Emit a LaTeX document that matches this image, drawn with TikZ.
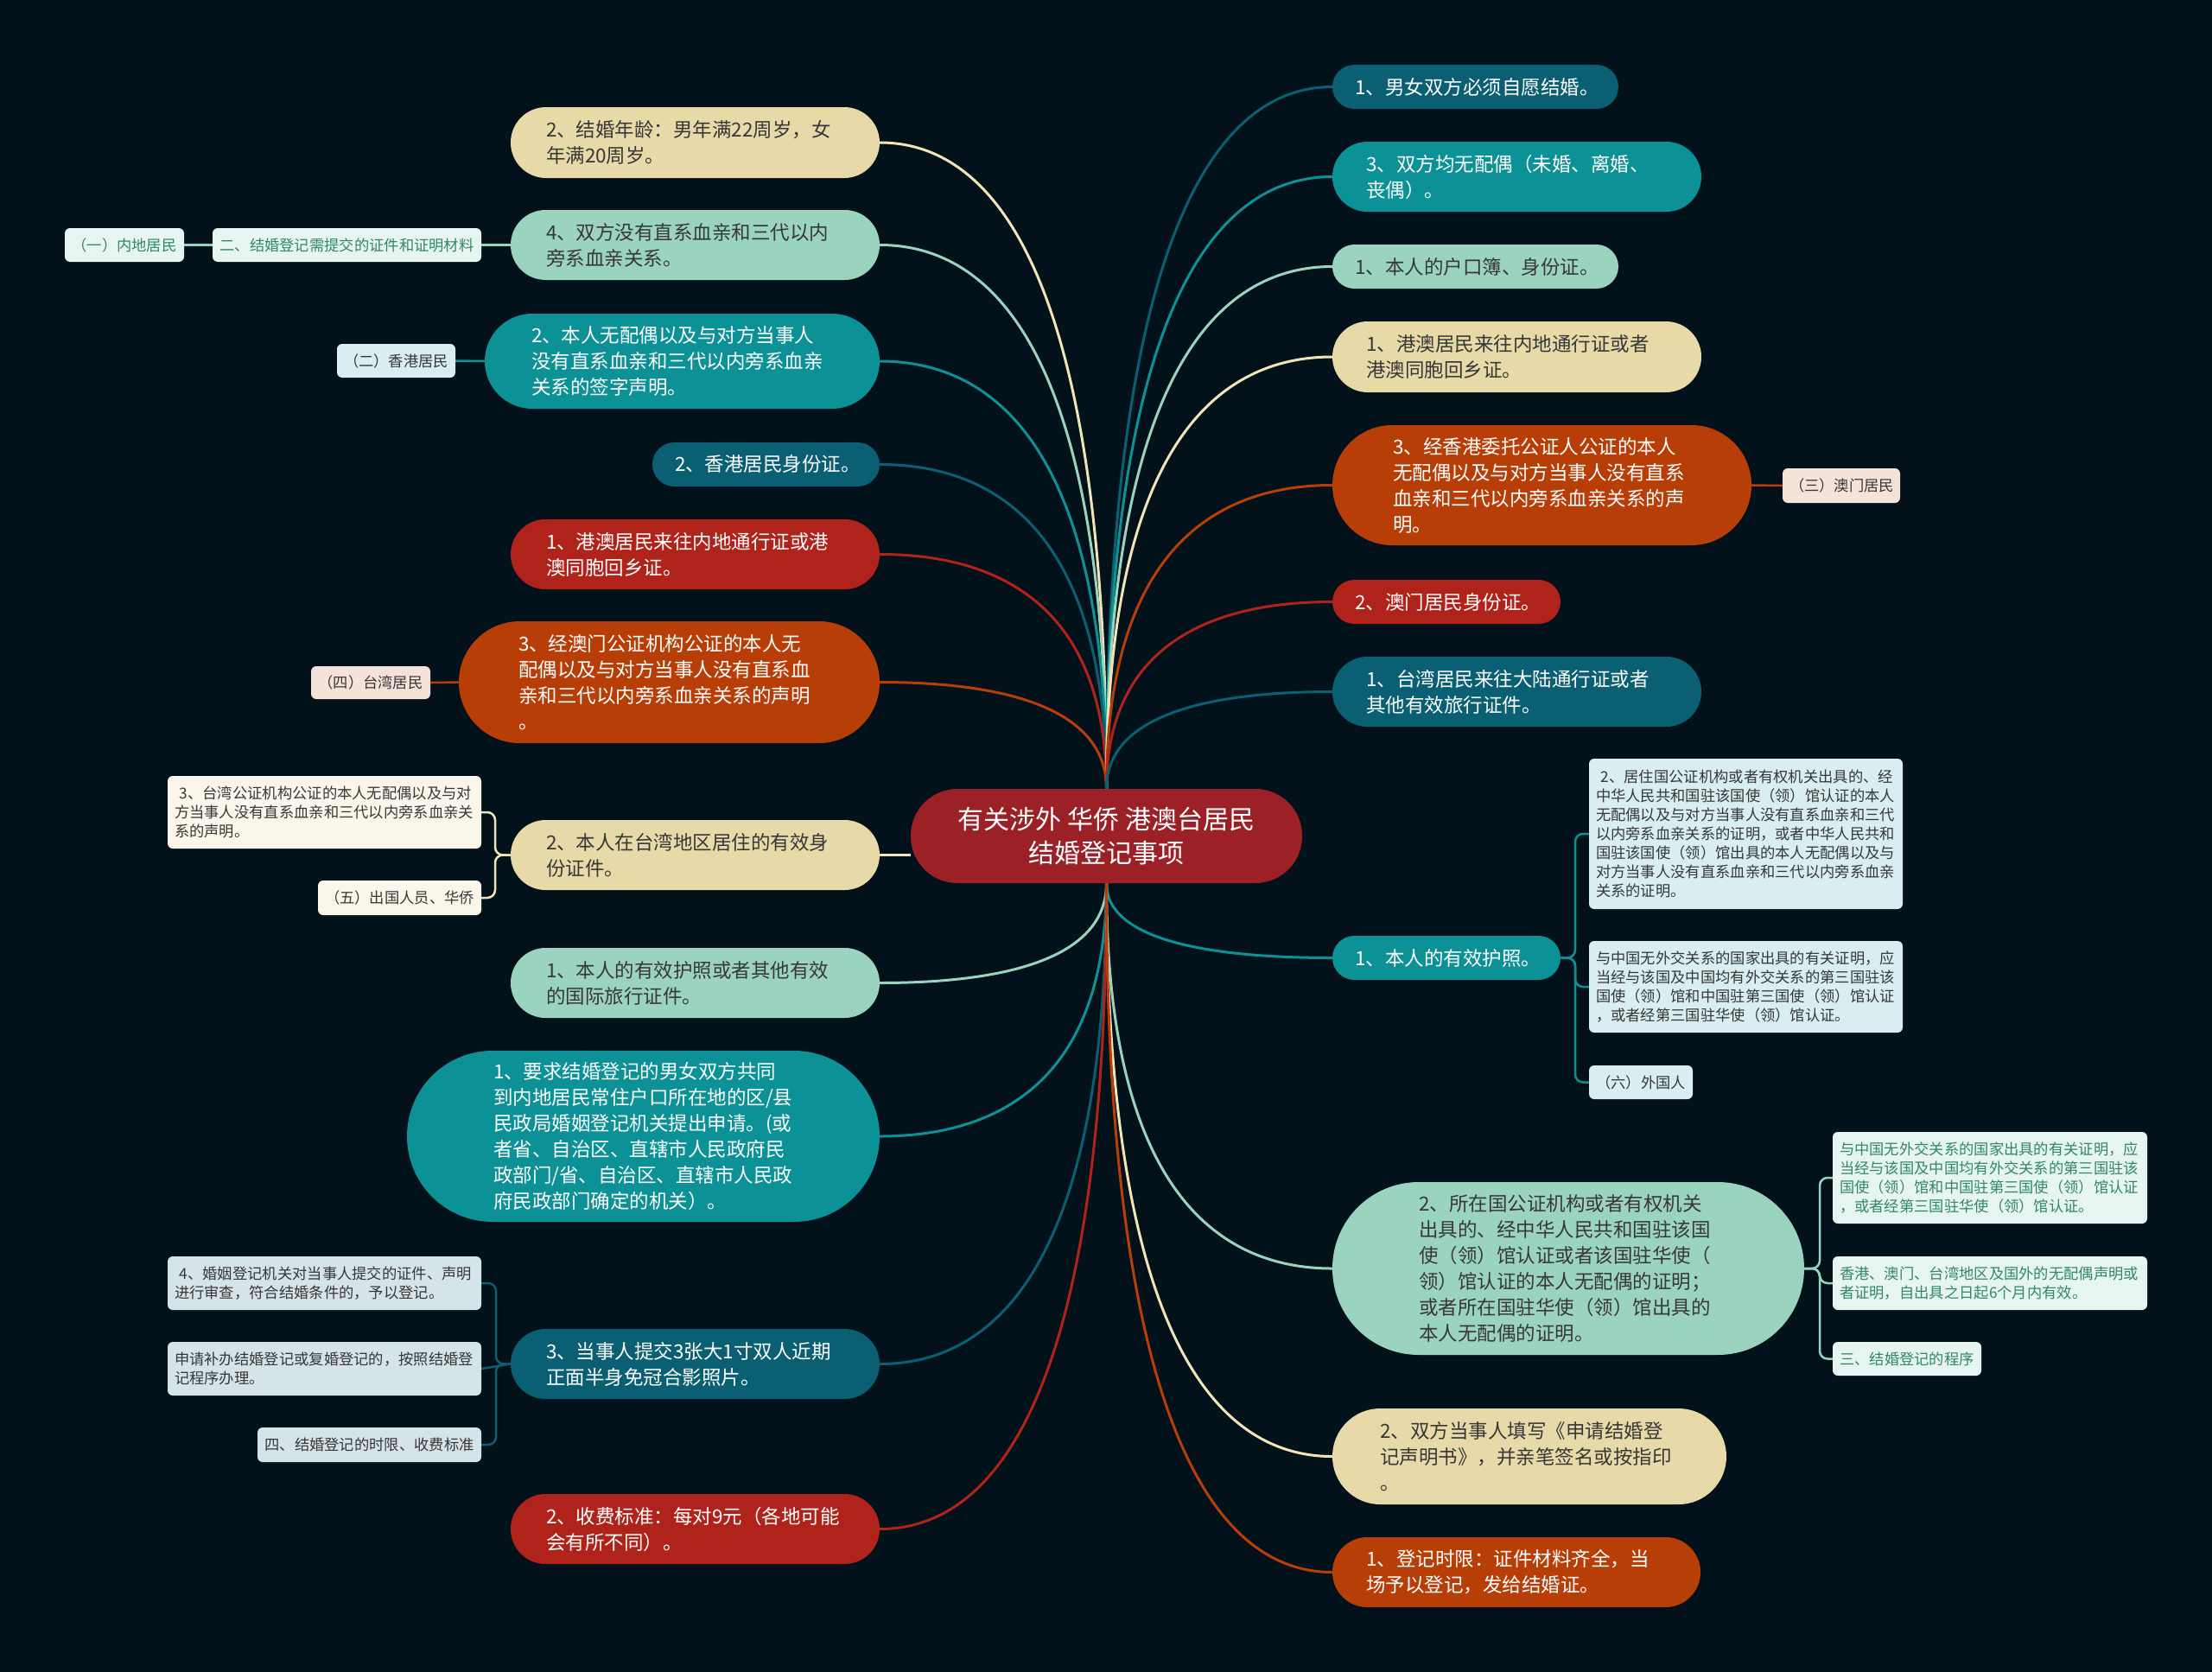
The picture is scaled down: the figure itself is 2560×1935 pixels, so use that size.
\documentclass[tikz,border=0pt]{standalone}
\usepackage{fontspec}
\setmainfont{Noto Sans CJK SC}
\usetikzlibrary{calc}
\definecolor{bgc}{RGB}{3,17,26}
\definecolor{cbeige}{RGB}{232,217,168}
\definecolor{lbeige}{RGB}{240,228,185}
\definecolor{cmint}{RGB}{155,212,190}
\definecolor{cteal}{RGB}{12,145,150}
\definecolor{cdteal}{RGB}{10,96,114}
\definecolor{cred}{RGB}{176,35,26}
\definecolor{corange}{RGB}{184,62,8}
\definecolor{ccenter}{RGB}{155,33,39}
\definecolor{tdark}{RGB}{55,55,55}
\definecolor{tgreen}{RGB}{50,135,105}
\definecolor{smint}{RGB}{230,245,239}
\definecolor{scyan}{RGB}{216,238,240}
\definecolor{speach}{RGB}{245,227,218}
\definecolor{scream}{RGB}{251,246,234}
\definecolor{sgray}{RGB}{213,228,233}
\pgfdeclarelayer{bglayer}
\pgfdeclarelayer{edgelayer}
\pgfsetlayers{bglayer,edgelayer,main}
\tikzset{
  conn/.style={draw=#1, line width=3pt},
  subconn/.style={draw=#1, line width=2.5pt, rounded corners=9pt},
}
\newcommand\mainnode[9]{%
  \pgfmathsetmacro\mnW{#4-#2}%
  \pgfmathsetmacro\mnH{#5-#3}%
  \pgfmathsetmacro\mnT{#4-#2-2*#6}%
  \pgfmathsetmacro\mnR{(#5-#3)/2-0.05}%
  \pgfmathsetmacro\mnX{(#2+#4)/2}%
  \pgfmathsetmacro\mnY{(#3+#5)/2}%
  \node[fill=#7, text=#8, rounded corners=\mnR pt, minimum width=\mnW pt,
        minimum height=\mnH pt, text width=\mnT pt, inner xsep=#6pt, inner ysep=0pt,
        align=left, font=\fontsize{22.5}{30}\selectfont] (#1) at (\mnX,\mnY) {#9};}
\newcommand\subnode[9]{%
  \pgfmathsetmacro\mnW{#4-#2}%
  \pgfmathsetmacro\mnH{#5-#3}%
  \pgfmathsetmacro\mnT{#4-#2-16}%
  \pgfmathsetmacro\mnX{(#2+#4)/2}%
  \pgfmathsetmacro\mnY{(#3+#5)/2}%
  \node[fill=#7, text=#8, rounded corners=6pt, minimum width=\mnW pt,
        minimum height=\mnH pt, text width=\mnT pt, inner xsep=8pt, inner ysep=0pt,
        align=#6, font=\fontsize{17.3}{22}\selectfont] (#1) at (\mnX,\mnY) {#9};}
\newcommand\curveto[3]{%
  \draw[conn=#3] let \p1=(#1), \p2=(#2) in
    (\p1) .. controls (\x1,{\y2+0.2*(\y1-(\y2))}) and ({\x2+0.5*(\x1-(\x2))},\y2) .. (\p2);}
\begin{document}
\begin{tikzpicture}[x=1pt,y=-1pt]
\begin{pgfonlayer}{bglayer}
\fill[bgc] (0,0) rectangle (2560,1935);
\end{pgfonlayer}
\useasboundingbox (0,0) rectangle (2560,1935);

% center
\node[fill=ccenter, text=white, rounded corners=54pt, minimum width=453pt, minimum height=109pt,
      inner sep=0pt, align=center, font=\fontsize{30}{39}\selectfont] (c) at (1280.5,967.5)
      {有关涉外 华侨 港澳台居民\\结婚登记事项};

% left main nodes
\mainnode{L1}{591}{124}{1018}{206}{41}{cbeige}{tdark}{2、结婚年龄：男年满22周岁，女\\年满20周岁。}
\mainnode{L2}{591}{243}{1018}{324}{41}{cmint}{tdark}{4、双方没有直系血亲和三代以内\\旁系血亲关系。}
\mainnode{L3}{561}{363}{1018}{473}{54}{cteal}{white}{2、本人无配偶以及与对方当事人\\没有直系血亲和三代以内旁系血亲\\关系的签字声明。}
\mainnode{L4}{755}{512}{1018}{563}{26}{cdteal}{white}{2、香港居民身份证。}
\mainnode{L5}{591}{601}{1018}{682}{41}{cred}{white}{1、港澳居民来往内地通行证或港\\澳同胞回乡证。}
\mainnode{L6}{531}{719}{1018}{860}{69}{corange}{white}{3、经澳门公证机构公证的本人无\\配偶以及与对方当事人没有直系血\\亲和三代以内旁系血亲关系的声明\\。}
\mainnode{L7}{591}{949}{1018}{1030}{41}{cbeige}{tdark}{2、本人在台湾地区居住的有效身\\份证件。}
\mainnode{L8}{591}{1097}{1018}{1178}{41}{cmint}{tdark}{1、本人的有效护照或者其他有效\\的国际旅行证件。}
\mainnode{L9}{471}{1216}{1018}{1414}{100}{cteal}{white}{1、要求结婚登记的男女双方共同\\到内地居民常住户口所在地的区/县\\民政局婚姻登记机关提出申请。(或\\者省、自治区、直辖市人民政府民\\政部门/省、自治区、直辖市人民政\\府民政部门确定的机关）。}
\mainnode{L10}{591}{1538}{1018}{1619}{41}{cdteal}{white}{3、当事人提交3张大1寸双人近期\\正面半身免冠合影照片。}
\mainnode{L11}{591}{1729}{1018}{1810}{41}{cred}{white}{2、收费标准：每对9元（各地可能\\会有所不同）。}

% right main nodes
\mainnode{R1}{1542}{75}{1873}{126}{26}{cdteal}{white}{1、男女双方必须自愿结婚。}
\mainnode{R2}{1542}{164}{1969}{245}{39}{cteal}{white}{3、双方均无配偶（未婚、离婚、\\丧偶）。}
\mainnode{R3}{1542}{283}{1873}{334}{26}{cmint}{tdark}{1、本人的户口簿、身份证。}
\mainnode{R4}{1542}{372}{1969}{454}{39}{cbeige}{tdark}{1、港澳居民来往内地通行证或者\\港澳同胞回乡证。}
\mainnode{R5}{1542}{492}{2027}{631}{70}{corange}{white}{3、经香港委托公证人公证的本人\\无配偶以及与对方当事人没有直系\\血亲和三代以内旁系血亲关系的声\\明。}
\mainnode{R6}{1542}{671}{1806}{722}{26}{cred}{white}{2、澳门居民身份证。}
\mainnode{R7}{1542}{760}{1969}{841}{39}{cdteal}{white}{1、台湾居民来往大陆通行证或者\\其他有效旅行证件。}
\mainnode{R8}{1542}{1083}{1806}{1134}{26}{cteal}{white}{1、本人的有效护照。}
\mainnode{R9}{1542}{1368}{2088}{1568}{100}{cmint}{tdark}{2、所在国公证机构或者有权机关\\出具的、经中华人民共和国驻该国\\使（领）馆认证或者该国驻华使（\\领）馆认证的本人无配偶的证明；\\或者所在国驻华使（领）馆出具的\\本人无配偶的证明。}
\mainnode{R10}{1542}{1630}{1998}{1741}{55}{cbeige}{tdark}{2、双方当事人填写《申请结婚登\\记声明书》，并亲笔签名或按指印\\。}
\mainnode{R11}{1542}{1779}{1968}{1860}{39}{corange}{white}{1、登记时限：证件材料齐全，当\\场予以登记，发给结婚证。}

% small nodes left
\subnode{S1}{75}{264}{213}{303}{center}{smint}{tgreen}{（一）内地居民}
\subnode{S2}{246}{264}{557}{303}{center}{smint}{tgreen}{二、结婚登记需提交的证件和证明材料}
\subnode{S3}{390}{398}{527}{437}{center}{scyan}{tdark}{（二）香港居民}
\subnode{S4}{360}{771}{498}{809}{center}{speach}{tdark}{（四）台湾居民}
\subnode{S5}{194}{898}{557}{982}{left}{scream}{tdark}{~3、台湾公证机构公证的本人无配偶以及与对\\方当事人没有直系血亲和三代以内旁系血亲关\\系的声明。}
\subnode{S6}{368}{1019}{557}{1059}{center}{scream}{tdark}{（五）出国人员、华侨}
\subnode{S7}{194}{1454}{557}{1516}{left}{sgray}{tdark}{~4、婚姻登记机关对当事人提交的证件、声明\\进行审查，符合结婚条件的，予以登记。}
\subnode{S8}{194}{1553}{557}{1615}{left}{sgray}{tdark}{申请补办结婚登记或复婚登记的，按照结婚登\\记程序办理。}
\subnode{S9}{298}{1652}{557}{1692}{center}{sgray}{tdark}{四、结婚登记的时限、收费标准}

% small nodes right
\subnode{S10}{2063}{542}{2199}{582}{center}{speach}{tdark}{（三）澳门居民}
\subnode{P1}{1839}{878}{2202}{1052}{left}{scyan}{tdark}{~2、居住国公证机构或者有权机关出具的、经\\中华人民共和国驻该国使（领）馆认证的本人\\无配偶以及与对方当事人没有直系血亲和三代\\以内旁系血亲关系的证明，或者中华人民共和\\国驻该国使（领）馆出具的本人无配偶以及与\\对方当事人没有直系血亲和三代以内旁系血亲\\关系的证明。}
\subnode{P2}{1839}{1089}{2202}{1195}{left}{scyan}{tdark}{与中国无外交关系的国家出具的有关证明，应\\当经与该国及中国均有外交关系的第三国驻该\\国使（领）馆和中国驻第三国使（领）馆认证\\，或者经第三国驻华使（领）馆认证。}
\subnode{P3}{1839}{1233}{1959}{1272}{center}{scyan}{tdark}{（六）外国人}
\subnode{Q1}{2121}{1310}{2485}{1416}{left}{smint}{tgreen}{与中国无外交关系的国家出具的有关证明，应\\当经与该国及中国均有外交关系的第三国驻该\\国使（领）馆和中国驻第三国使（领）馆认证\\，或者经第三国驻华使（领）馆认证。}
\subnode{Q2}{2121}{1454}{2485}{1516}{left}{smint}{tgreen}{香港、澳门、台湾地区及国外的无配偶声明或\\者证明，自出具之日起6个月内有效。}
\subnode{Q3}{2121}{1553}{2293}{1592}{center}{smint}{tgreen}{三、结婚登记的程序}

% bracket x positions
\coordinate (kL7) at (573,990);
\coordinate (kL10) at (574,1578);
\coordinate (kR8) at (1823,1108);
\coordinate (kR9) at (2106,1468);

\begin{pgfonlayer}{edgelayer}
% center to main nodes (upper)
\curveto{c.north}{L1.east}{lbeige}
\curveto{c.north}{L2.east}{cmint}
\curveto{c.north}{L3.east}{cteal}
\curveto{c.north}{L4.east}{cdteal}
\curveto{c.north}{L5.east}{cred}
\curveto{c.north}{L6.east}{corange}
\curveto{c.north}{R1.west}{cdteal}
\curveto{c.north}{R2.west}{cteal}
\curveto{c.north}{R3.west}{cmint}
\curveto{c.north}{R4.west}{lbeige}
\curveto{c.north}{R5.west}{corange}
\curveto{c.north}{R6.west}{cred}
\curveto{c.north}{R7.west}{cdteal}
% middle
\draw[conn=lbeige] (c.west |- L7.east) -- (L7.east);
% lower
\curveto{c.south}{L8.east}{cmint}
\curveto{c.south}{L9.east}{cteal}
\curveto{c.south}{L10.east}{cdteal}
\curveto{c.south}{L11.east}{cred}
\curveto{c.south}{R8.west}{cteal}
\curveto{c.south}{R9.west}{cmint}
\curveto{c.south}{R10.west}{lbeige}
\curveto{c.south}{R11.west}{corange}

% straight sub connectors
\draw[subconn=cmint] (L2.west) -- (S2.east);
\draw[subconn=cmint] (S2.west) -- (S1.east);
\draw[subconn=cteal] (L3.west) -- (S3.east);
\draw[subconn=corange] (L6.west) -- (S4.east);
\draw[subconn=corange] (R5.east) -- (S10.west);

% brackets
\foreach \ch in {S5,S6}
  \draw[subconn=lbeige] (L7.west) -- (L7.west -| kL7) |- (\ch.east);
\foreach \ch in {S7,S9}
  \draw[subconn=cdteal] (L10.west) -- (L10.west -| kL10) |- (\ch.east);
\draw[subconn=cdteal] (L10.west) -- (S8.east);
\foreach \ch in {P1,P2,P3}
  \draw[subconn=cteal] (R8.east) -- (R8.east -| kR8) |- (\ch.west);
\foreach \ch in {Q1,Q2,Q3}
  \draw[subconn=cmint] (R9.east) -- (R9.east -| kR9) |- (\ch.west);
\end{pgfonlayer}
\end{tikzpicture}
\end{document}
